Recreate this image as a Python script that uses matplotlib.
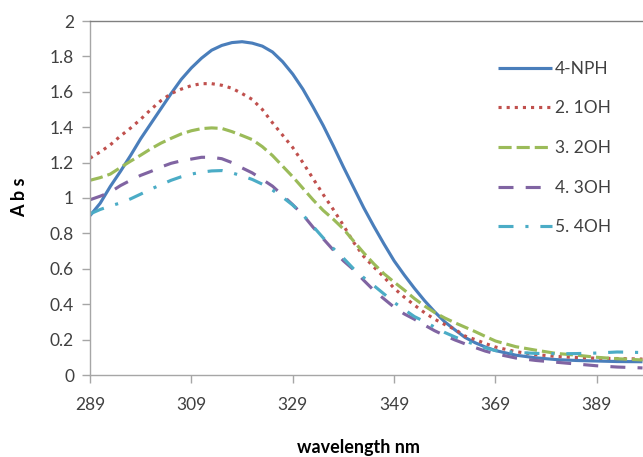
import matplotlib
matplotlib.use("Agg")
import matplotlib.pyplot as plt

plt.rcParams['font.family'] = ['Lato', 'DejaVu Sans']

wavelength = [289, 291, 293, 295, 297, 299, 301, 303, 305, 307, 309, 311, 313, 315, 317,
              319, 321, 323, 325, 327, 329, 331, 333, 335, 337, 339, 341, 343, 345, 347,
              349, 351, 353, 355, 357, 359, 361, 363, 365, 367, 369, 373, 377, 381, 385,
              389, 393, 398]

npH = [0.90, 0.97, 1.065, 1.15, 1.24, 1.335, 1.42, 1.505, 1.59, 1.67, 1.735, 1.79, 1.835,
       1.862, 1.878, 1.883, 1.875, 1.858, 1.825, 1.77, 1.70, 1.615, 1.515, 1.41, 1.295,
       1.175, 1.06, 0.945, 0.84, 0.74, 0.645, 0.565, 0.49, 0.42, 0.357, 0.30, 0.255,
       0.212, 0.182, 0.158, 0.138, 0.112, 0.097, 0.087, 0.082, 0.079, 0.076, 0.075]
oh1 = [1.225, 1.26, 1.30, 1.35, 1.395, 1.445, 1.50, 1.55, 1.59, 1.615, 1.635, 1.646, 1.646,
       1.637, 1.62, 1.59, 1.557, 1.50, 1.425, 1.355, 1.285, 1.20, 1.11, 1.02, 0.935,
       0.845, 0.75, 0.67, 0.61, 0.553, 0.49, 0.44, 0.395, 0.352, 0.315, 0.285, 0.258,
       0.22, 0.20, 0.178, 0.158, 0.132, 0.115, 0.105, 0.099, 0.095, 0.093, 0.09]
oh2 = [1.10, 1.115, 1.135, 1.172, 1.208, 1.242, 1.278, 1.31, 1.337, 1.362, 1.38, 1.392,
       1.396, 1.393, 1.375, 1.353, 1.33, 1.29, 1.24, 1.18, 1.12, 1.055, 0.99, 0.93, 0.88,
       0.825, 0.757, 0.69, 0.628, 0.572, 0.525, 0.48, 0.432, 0.39, 0.353, 0.322, 0.295,
       0.27, 0.245, 0.218, 0.192, 0.16, 0.14, 0.122, 0.112, 0.10, 0.092, 0.085]
oh3 = [0.99, 1.01, 1.033, 1.07, 1.10, 1.128, 1.15, 1.175, 1.196, 1.21, 1.22, 1.23, 1.23,
       1.222, 1.20, 1.17, 1.142, 1.105, 1.067, 1.015, 0.962, 0.905, 0.835, 0.77, 0.706,
       0.645, 0.595, 0.535, 0.478, 0.43, 0.383, 0.345, 0.315, 0.282, 0.25, 0.223, 0.198,
       0.176, 0.155, 0.135, 0.12, 0.096, 0.082, 0.072, 0.062, 0.052, 0.045, 0.04]
oh4 = [0.91, 0.935, 0.955, 0.972, 0.995, 1.022, 1.05, 1.075, 1.10, 1.12, 1.135, 1.146,
       1.153, 1.155, 1.142, 1.125, 1.105, 1.078, 1.045, 1.005, 0.96, 0.905, 0.84, 0.775,
       0.715, 0.66, 0.60, 0.55, 0.505, 0.458, 0.41, 0.37, 0.33, 0.302, 0.27, 0.24, 0.215,
       0.192, 0.172, 0.153, 0.138, 0.128, 0.122, 0.12, 0.121, 0.124, 0.13, 0.127]

labels = ['4-NPH', '2. 1OH', '3. 2OH', '4. 3OH', '5. 4OH']
colors = ['#4A7EBB', '#C0504D', '#9BBB59', '#8064A2', '#4BACC6']
styles = ['-', (0, (1, 1.6)), (0, (4.2, 1.6)), (0, (4.8, 3.9)), (0, (4.8, 3.8, 1, 3.8))]

xticks = [289, 309, 329, 349, 369, 389]
yticks = [0, 0.2, 0.4, 0.6, 0.8, 1, 1.2, 1.4, 1.6, 1.8, 2]
ytick_labels = ['0', '0.2', '0.4', '0.6', '0.8', '1', '1.2', '1.4', '1.6', '1.8', '2']

fig = plt.figure(figsize=(6.43, 4.57), dpi=100)
ax = fig.add_axes([90/643, 82/457, 553/643, 354/457])

for y, lab, c, ls in zip([npH, oh1, oh2, oh3, oh4], labels, colors, styles):
    ax.plot(wavelength, y, color=c, linestyle=ls, linewidth=2.25, label=lab,
            solid_capstyle='butt', dash_capstyle='butt', solid_joinstyle='round')

ax.set_xlim(289, 398.1)
ax.set_ylim(0, 2)
ax.set_xticks(xticks)
ax.set_xticklabels([str(t) for t in xticks])
ax.set_yticks(yticks)
ax.set_yticklabels(ytick_labels)

for s in ['left', 'bottom']:
    ax.spines[s].set_color('#A6A6A6')
    ax.spines[s].set_linewidth(1.0)
ax.spines['top'].set_color('#808080')
ax.spines['top'].set_linewidth(1.0)
ax.spines['right'].set_visible(False)

ax.tick_params(axis='both', direction='out', length=5.5, width=1, color='#A6A6A6',
               labelsize=12.5, labelcolor='#404040')
ax.tick_params(axis='x', pad=10)
ax.tick_params(axis='y', pad=6)

ax.set_ylabel('A b s', fontsize=13, fontweight='bold', color='black', va='center')
ax.yaxis.set_label_coords(-0.1266, 0.503)
ax.set_xlabel('wavelength nm', fontsize=13, fontweight='bold', color='black', va='center')
ax.xaxis.set_label_coords(0.485, -0.206)

leg = ax.legend(loc='center left', bbox_to_anchor=(0.738, 0.641), frameon=False,
                fontsize=12.5, handlelength=3.11, handletextpad=0.17, labelspacing=1.36,
                borderaxespad=0, borderpad=0)
for t in leg.get_texts():
    t.set_color('#404040')

fig.savefig('out.png', dpi=100)
